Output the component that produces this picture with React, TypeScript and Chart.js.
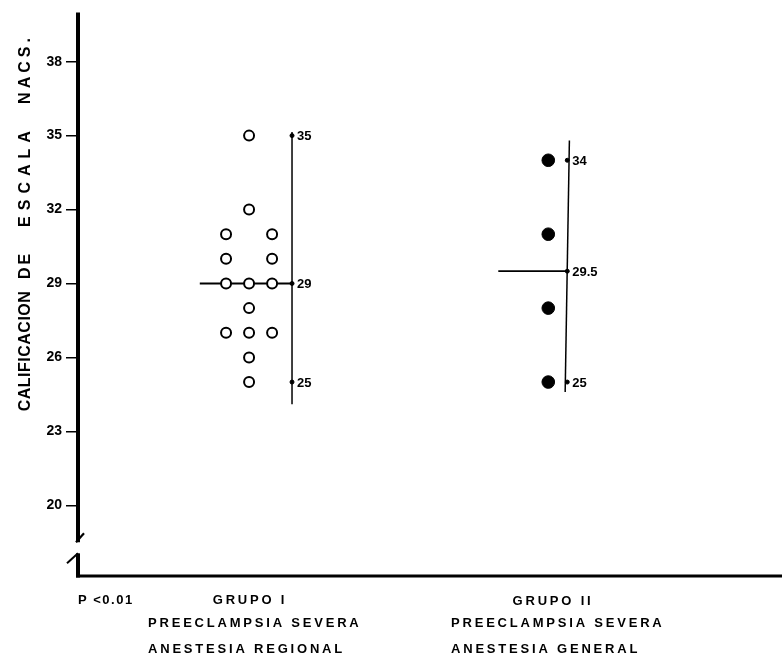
import React, { useEffect, useRef } from "react";
import { Chart, registerables } from "chart.js";

Chart.register(...registerables);

// ---------- data ----------
const yTicks = [20, 23, 26, 29, 32, 35, 38];
const group1Values = [35, 32, 31, 31, 30, 30, 29, 29, 29, 28, 27, 27, 27, 26, 25];
const group1Columns = [0, 0, -1, 1, -1, 1, -1, 0, 1, 0, -1, 0, 1, 0, 0];
const group2Values = [34, 31, 28, 25];
const group1Summary = [35, 29, 25];
const group1SummaryLabels = ["35", "29", "25"];
const group2Summary = [34, 29.5, 25];
const group2SummaryLabels = ["34", "29.5", "25"];
const group1Median = 29;
const group2Median = 29.5;
const group1RangeLine = [24.1, 35.15];
const group2RangeLine = [24.6, 34.8];
const axisBreak = [18.05, 18.5];
const group1Labels = ["GRUPO I", "PREECLAMPSIA SEVERA", "ANESTESIA REGIONAL"];
const group2Labels = ["GRUPO II", "PREECLAMPSIA SEVERA", "ANESTESIA GENERAL"];
const pValueLabel = "P <0.01";
const yTitleWords = ["CALIFICACION", "DE", "ESCALA", "NACS."];

// ---------- layout (x scale 0..100) ----------
const G1_X = 24.3;
const COL_STEP = 3.27;
const G1_LINE_X = 30.4;
const G1_MED_START = 17.3;
const G2_X = 66.8;
const G2_LINE_TOP_X = 69.8;
const G2_LINE_BOT_X = 69.2;
const G2_LINE_X = 69.5;
const G2_MED_START = 59.7;

const FONT = "'Liberation Sans', Arial, sans-serif";

const overlayPlugin = {
  id: "overlay",
  beforeDatasetsDraw(chart: any) {
    const { ctx, chartArea, scales } = chart;
    const y = scales.y;
    const left = chartArea.left;
    const bottom = chartArea.bottom;
    ctx.save();
    ctx.strokeStyle = "#000";
    ctx.lineCap = "butt";
    const yBreakTop = y.getPixelForValue(axisBreak[1]);
    const yBreakBot = y.getPixelForValue(axisBreak[0]);
    ctx.lineWidth = 4;
    ctx.beginPath();
    ctx.moveTo(left, chartArea.top);
    ctx.lineTo(left, yBreakTop);
    ctx.stroke();
    ctx.lineWidth = 2.2;
    ctx.beginPath();
    ctx.moveTo(left - 2, yBreakTop);
    ctx.lineTo(left + 6, yBreakTop - 9);
    ctx.stroke();
    ctx.lineWidth = 4;
    ctx.beginPath();
    ctx.moveTo(left, yBreakBot);
    ctx.lineTo(left, bottom + 1.5);
    ctx.stroke();
    ctx.lineWidth = 2;
    ctx.beginPath();
    ctx.moveTo(left, yBreakBot);
    ctx.lineTo(left - 11, yBreakBot + 10);
    ctx.stroke();
    ctx.lineWidth = 3;
    ctx.beginPath();
    ctx.moveTo(left - 2, bottom);
    ctx.lineTo(chart.width, bottom);
    ctx.stroke();
    ctx.restore();
  },
  afterDatasetsDraw(chart: any) {
    const { ctx, scales } = chart;
    const x = scales.x;
    const y = scales.y;
    ctx.save();
    ctx.fillStyle = "#000";
    ctx.font = `bold 13px ${FONT}`;
    ctx.textAlign = "left";
    ctx.textBaseline = "middle";
    group1Summary.forEach((v, i) => {
      ctx.fillText(group1SummaryLabels[i], x.getPixelForValue(G1_LINE_X) + 5, y.getPixelForValue(v) + 1);
    });
    group2Summary.forEach((v, i) => {
      ctx.fillText(group2SummaryLabels[i], x.getPixelForValue(G2_LINE_X) + 5, y.getPixelForValue(v) + 1);
    });
    // y title
    ctx.save();
    ctx.translate(26, 0);
    ctx.rotate(-Math.PI / 2);
    ctx.font = `bold 16px ${FONT}`;
    ctx.textAlign = "center";
    ctx.textBaseline = "middle";
    const centers = [351, 265, 176, 69];
    const spacing = [0.5, 3, 6, 4];
    yTitleWords.forEach((w, i) => {
      (ctx as any).letterSpacing = `${spacing[i]}px`;
      ctx.fillText(w, -centers[i], 0);
    });
    ctx.restore();
    // bottom labels
    ctx.textBaseline = "middle";
    ctx.font = `bold 13px ${FONT}`;
    (ctx as any).letterSpacing = "1.5px";
    ctx.textAlign = "left";
    ctx.fillText(pValueLabel, 78, 600);
    (ctx as any).letterSpacing = "2.8px";
    ctx.textAlign = "center";
    ctx.fillText(group1Labels[0], 250, 600);
    ctx.fillText(group2Labels[0], 553, 601);
    ctx.textAlign = "left";
    ctx.fillText(group1Labels[1], 148, 623);
    ctx.fillText(group1Labels[2], 148, 649);
    ctx.fillText(group2Labels[1], 451, 623);
    ctx.fillText(group2Labels[2], 451, 649);
    ctx.restore();
  },
};

export default function App() {
  const ref = useRef<HTMLCanvasElement | null>(null);
  useEffect(() => {
    document.body.style.margin = "0";
    document.body.style.overflow = "hidden";
    const canvas = ref.current;
    if (!canvas) return;
    const line = { showLine: true, pointRadius: 0, borderColor: "#000", fill: false };
    const chart = new Chart(canvas, {
      type: "scatter",
      data: {
        datasets: [
          {
            label: "Grupo I",
            data: group1Values.map((v, i) => ({ x: G1_X + group1Columns[i] * COL_STEP, y: v })),
            pointRadius: 5,
            pointBorderWidth: 2,
            pointBackgroundColor: "#fff",
            pointBorderColor: "#000",
          },
          {
            label: "Grupo II",
            data: group2Values.map((v) => ({ x: G2_X, y: v })),
            pointRadius: 6.3,
            pointBorderWidth: 1,
            pointBackgroundColor: "#000",
            pointBorderColor: "#000",
          },
          {
            label: "g1 marks",
            data: group1Summary.map((v) => ({ x: G1_LINE_X, y: v })),
            pointRadius: 2,
            pointBackgroundColor: "#000",
            pointBorderColor: "#000",
          },
          {
            label: "g2 marks",
            data: group2Summary.map((v) => ({ x: G2_LINE_X, y: v })),
            pointRadius: 2,
            pointBackgroundColor: "#000",
            pointBorderColor: "#000",
          },
          {
            ...line,
            label: "g1 median",
            data: [{ x: G1_MED_START, y: group1Median }, { x: G1_LINE_X, y: group1Median }],
            borderWidth: 2,
          },
          {
            ...line,
            label: "g1 range",
            data: [{ x: G1_LINE_X, y: group1RangeLine[0] }, { x: G1_LINE_X, y: group1RangeLine[1] }],
            borderWidth: 1.5,
          },
          {
            ...line,
            label: "g2 median",
            data: [{ x: G2_MED_START, y: group2Median }, { x: G2_LINE_X, y: group2Median }],
            borderWidth: 1.8,
          },
          {
            ...line,
            label: "g2 range",
            data: [{ x: G2_LINE_BOT_X, y: group2RangeLine[0] }, { x: G2_LINE_TOP_X, y: group2RangeLine[1] }],
            borderWidth: 1.5,
          },
        ],
      },
      options: {
        animation: false,
        responsive: false,
        layout: { autoPadding: false, padding: { top: 8, bottom: 90, left: 0, right: 0 } },
        plugins: { legend: { display: false }, tooltip: { enabled: false } },
        scales: {
          x: { type: "linear", min: 0, max: 100, display: false },
          y: {
            type: "linear",
            min: 17.13,
            max: 40,
            afterFit: (s: any) => {
              s.width = 78;
            },
            afterBuildTicks: (s: any) => {
              s.ticks = yTicks.map((v) => ({ value: v }));
            },
            border: { display: false },
            grid: {
              drawOnChartArea: false,
              drawTicks: true,
              tickLength: 12,
              color: "#000",
              lineWidth: 1.5,
            },
            ticks: {
              color: "#000",
              padding: 4,
              font: { family: FONT, size: 14, weight: "bold" },
            },
          },
        },
      },
      plugins: [overlayPlugin],
    });
    return () => chart.destroy();
  }, []);
  return <canvas ref={ref} width={782} height={666} style={{ display: "block", width: 782, height: 666 }} />;
}
